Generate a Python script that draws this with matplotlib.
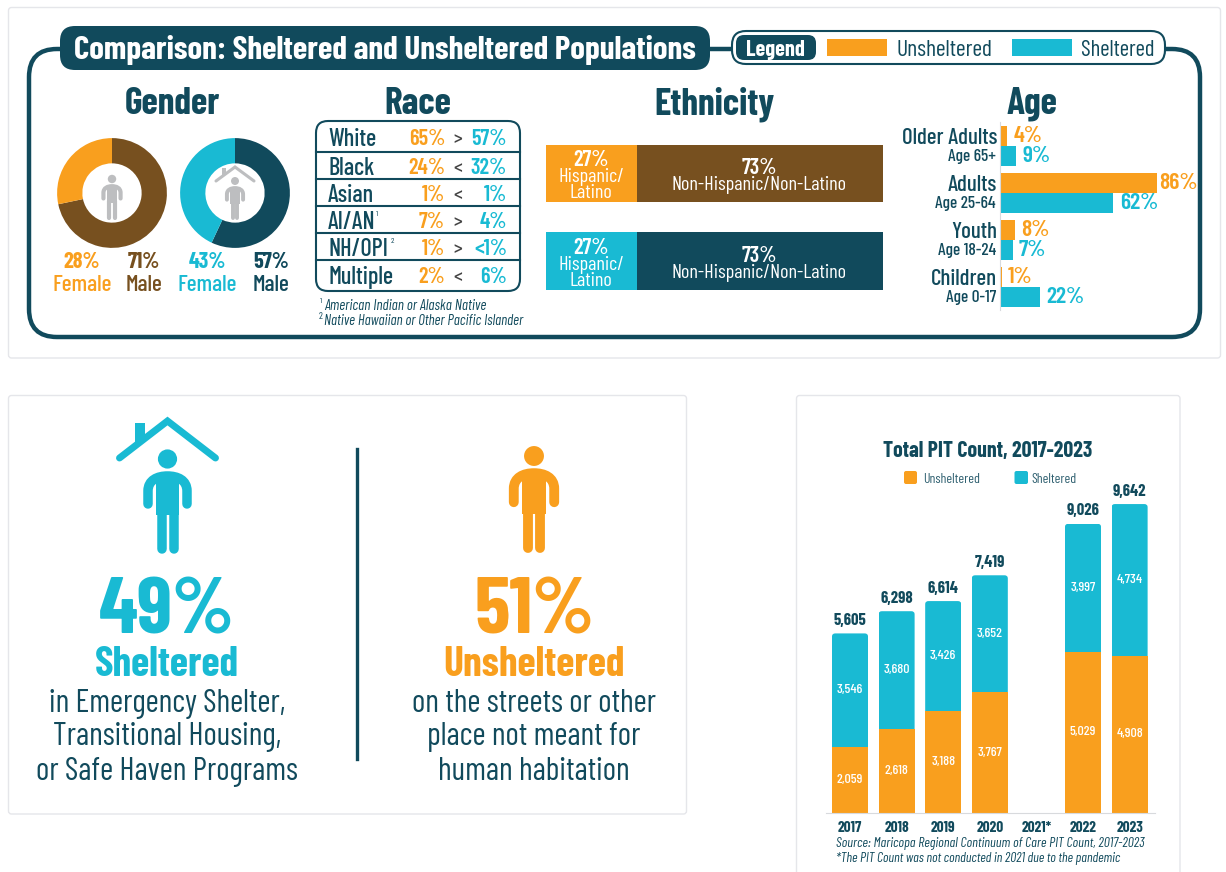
#!/usr/bin/env python3
"""
Sheltered and unsheltered populations, PIT count infographic
"""

import matplotlib
matplotlib.use("Agg")
import matplotlib.pyplot as plt
import numpy as np
from matplotlib.patches import Circle, FancyBboxPatch, PathPatch, Polygon, Rectangle
from matplotlib.path import Path

W, H = 1226, 872
ORANGE = "#F99F1E"
TEAL = "#19BAD3"
DARK = "#114A5C"
BROWN = "#77501F"
GRAY = "#BDBEC0"
BORDER = "#E5E6EA"

plt.rcParams["font.family"] = ["Barlow Condensed", "Roboto", "DejaVu Sans"]

# Gender
gender_unsheltered = [71, 28]
gender_sheltered = [57, 43]

# Race table
race_labels = ["White", "Black", "Asian", "AI/AN", "NH/OPI", "Multiple"]
race_unsheltered = ["65%", "24%", "1%", "7%", "1%", "2%"]
race_compare = [">", "<", "<", ">", ">", "<"]
race_sheltered = ["57%", "32%", "1%", "4%", "<1%", "6%"]

# Ethnicity
ethnicity_hispanic = [27, 27]
ethnicity_non_hispanic = [73, 73]

# Age
age_labels = ["Older Adults", "Adults", "Youth", "Children"]
age_ranges = ["Age 65+", "Age 25-64", "Age 18-24", "Age 0-17"]
age_unsheltered = [4, 86, 8, 1]
age_sheltered = [9, 62, 7, 22]

# PIT counts
pit_years = ["2017", "2018", "2019", "2020", "2021*", "2022", "2023"]
pit_unsheltered = [2059, 2618, 3188, 3767, np.nan, 5029, 4908]
pit_sheltered = [3546, 3680, 3426, 3652, np.nan, 3997, 4734]
pit_totals = [5605, 6298, 6614, 7419, np.nan, 9026, 9642]


def axes_px(x0, y0, x1, y1):
    """Axes placed with pixel coordinates, y counted from the top"""
    ax = FIG.add_axes([x0 / W, 1 - y1 / H, (x1 - x0) / W, (y1 - y0) / H])
    ax.patch.set_alpha(0)
    return ax


def overlay(zorder):
    ax = axes_px(0, 0, W, H)
    ax.set_xlim(0, W)
    ax.set_ylim(H, 0)
    ax.axis("off")
    ax.set_zorder(zorder)
    return ax


def box(ax, x0, y0, x1, y1, r, fc, ec="none", lw=0, zorder=1):
    ax.add_patch(FancyBboxPatch((x0, y0), x1 - x0, y1 - y0,
                                boxstyle=f"round,pad=0,rounding_size={r}",
                                fc=fc, ec=ec, lw=lw, zorder=zorder))


def txt(x, y, s, size, color=DARK, weight="normal", ha="center", style="normal"):
    FG.text(x, y, s, fontsize=size, color=color, fontweight=weight, ha=ha,
            va="center_baseline", fontstyle=style, zorder=5)


def person(ax, cx, head_y, top, bottom, color):
    """Standing figure, proportions scaled from the body height"""
    s = (bottom - top) / 82
    px = s * 0.72
    ax.add_patch(Circle((cx, head_y), 9.6 * s, fc=color, ec="none"))
    # shoulders and arms as one stroke
    verts = [(cx - 19.5 * s, top + 33 * s), (cx - 19.5 * s, top + 20 * s),
             (cx - 19.5 * s, top + 9 * s), (cx - 10 * s, top + 5 * s), (cx, top + 5 * s),
             (cx + 10 * s, top + 5 * s), (cx + 19.5 * s, top + 9 * s), (cx + 19.5 * s, top + 20 * s),
             (cx + 19.5 * s, top + 33 * s)]
    codes = [Path.MOVETO, Path.LINETO, Path.CURVE4, Path.CURVE4, Path.CURVE4,
             Path.CURVE4, Path.CURVE4, Path.CURVE4, Path.LINETO]
    ax.add_patch(PathPatch(Path(verts, codes), fc="none", ec=color, lw=9.5 * px,
                           capstyle="round", joinstyle="round"))
    ax.add_patch(Rectangle((cx - 11.5 * s, top + 4 * s), 23 * s, 40 * s, fc=color, ec="none"))
    for dx in (-6, 6):
        ax.plot([cx + dx * s] * 2, [top + 38 * s, top + 77.5 * s], color=color,
                lw=9.5 * px, solid_capstyle="round")


def roof(ax, cx, apex_y, half, drop, lw, chim, color):
    ax.plot([cx - half, cx, cx + half], [apex_y + drop, apex_y, apex_y + drop],
            color=color, lw=lw, solid_capstyle="round", solid_joinstyle="miter")
    ax.add_patch(Polygon(chim, fc=color, ec="none"))


FIG = plt.figure(figsize=(W / 100, H / 100), dpi=100, facecolor="white")
BG = overlay(0)
FG = overlay(10)

# Cards
box(BG, 8.5, 7.5, 1220.5, 358, 3, "white", BORDER, 1)
box(BG, 8.5, 395.5, 686.5, 814, 3, "white", BORDER, 1)
box(BG, 796.5, 395.5, 1180, 900, 3, "white", BORDER, 1)

# Comparison frame, title and legend
box(BG, 29, 49, 1200, 337, 28, "white", DARK, 3.2)
box(FG, 60, 26, 710, 70, 15, DARK)
txt(385, 47, "Comparison: Sheltered and Unsheltered Populations", 23.8, "white", "bold")
box(FG, 732, 31, 1165, 64, 14, "white", DARK, 1.5)
box(FG, 736, 35, 816, 60, 8, DARK)
txt(775, 47.5, "Legend", 16, "white", "bold")
FG.add_patch(Rectangle((827, 39), 60, 17, fc=ORANGE, ec="none"))
txt(896, 48, "Unsheltered", 17, ha="left")
FG.add_patch(Rectangle((1012, 39), 60, 17, fc=TEAL, ec="none"))
txt(1081, 48, "Sheltered", 16.5, ha="left")

# Section headings
for heading_x, heading in zip([172, 418, 714, 1032], ["Gender", "Race", "Ethnicity", "Age"]):
    txt(heading_x, 100, heading, 27, weight="bold")

# Gender donuts
for cx, vals, cols in [(112, gender_unsheltered, [BROWN, ORANGE]),
                       (235, gender_sheltered, [DARK, TEAL])]:
    ax = axes_px(cx - 56, 193 - 56, cx + 56, 193 + 56)
    ax.pie(vals, colors=cols, startangle=90, counterclock=False, radius=1,
           wedgeprops={"width": 0.46})
    ax.set_xlim(-1.02, 1.02)
    ax.set_ylim(-1.02, 1.02)

person(FG, 112, 179, 184, 220, GRAY)
person(FG, 235, 181, 186, 220, GRAY)
roof(FG, 235, 167, 19, 14, 2.2, [(222, 168), (226, 168), (226, 174), (222, 177)], GRAY)

for lx, lval, ltxt, col in [(82, gender_unsheltered[1], "Female", ORANGE),
                            (144, gender_unsheltered[0], "Male", BROWN),
                            (207, gender_sheltered[1], "Female", TEAL),
                            (271, gender_sheltered[0], "Male", DARK)]:
    txt(lx, 260, f"{lval}%", 16, col, "bold")
    txt(lx, 283, ltxt, 17, col, "medium")

# Race table
box(FG, 316, 121, 520, 291, 12, "white", DARK, 1.5, zorder=1)
for line_y in [152, 179, 206, 233, 260]:
    FG.plot([316, 520], [line_y, line_y], color=DARK, lw=1.5, zorder=2)
for row_y, name, left, cmp_sign, right in zip([137, 166, 193, 220, 247, 275], race_labels,
                                              race_unsheltered, race_compare, race_sheltered):
    txt(328, row_y, name, 17.5, weight="medium", ha="left")
    txt(445, row_y, left, 16, ORANGE, "semibold", ha="right")
    txt(458, row_y, cmp_sign, 14, "#444444", "medium")
    txt(507, row_y, right, 16, TEAL, "semibold", ha="right")
txt(376, 213, "1", 6, ha="left")
txt(391, 240, "2", 6, ha="left")
txt(324, 304, "American Indian or Alaska Native", 10.7, ha="left", style="italic")
txt(324, 319, "Native Hawaiian or Other Pacific Islander", 10.6, ha="left", style="italic")
txt(320, 300, "1", 6, ha="left")
txt(319, 315, "2", 7, ha="left")

# Ethnicity bars
ax = axes_px(546, 129.75, 883, 304.75)
eth_y = np.arange(2)
ax.barh(eth_y, ethnicity_hispanic, height=0.66, color=[ORANGE, TEAL])
ax.barh(eth_y, ethnicity_non_hispanic, left=ethnicity_hispanic, height=0.66, color=[BROWN, DARK])
ax.set_xlim(0, 100)
ax.set_ylim(1.5, -0.5)
ax.axis("off")
for base_y, i in [(144, 0), (232, 1)]:
    txt(591, base_y + 14, f"{ethnicity_hispanic[i]}%", 16, "white", "semibold")
    txt(591, base_y + 31, "Hispanic/", 14.5, "white")
    txt(591, base_y + 47, "Latino", 14.5, "white")
    txt(759, base_y + 22, f"{ethnicity_non_hispanic[i]}%", 16, "white", "semibold")
    txt(759, base_y + 39, "Non-Hispanic/Non-Latino", 14.5, "white")

# Age bars
ax = axes_px(1000, 122.5, 1183, 310.5)
age_y = np.arange(4)
bars_u = ax.barh(age_y - 0.2075, age_unsheltered, height=0.415, color=ORANGE)
bars_s = ax.barh(age_y + 0.2075, age_sheltered, height=0.415, color=TEAL)
ax.set_xlim(0, 100)
ax.set_ylim(3.5, -0.5)
for side in ("top", "right", "bottom"):
    ax.spines[side].set_visible(False)
ax.spines["left"].set_color("#D8DADD")
ax.set_xticks([])
ax.set_yticks([])
for bars, vals, col in [(bars_u, age_unsheltered, ORANGE), (bars_s, age_sheltered, TEAL)]:
    for bar, val in zip(bars, vals):
        ax.annotate(f"{val}%", (val, bar.get_y() + bar.get_height() / 2), xytext=(1.5 if val > 80 else 4.5, 0),
                    textcoords="offset points", color=col, fontsize=17, fontweight="semibold",
                    va="center", annotation_clip=False)
for center_y, name, ages in zip([136, 183, 230, 277], age_labels, age_ranges):
    txt(997, center_y, name, 16.5, weight="medium", ha="right")
    txt(996, center_y + 19, ages, 12.5, weight="medium", ha="right")

# Big share panel
person(FG, 167.5, 459, 471, 553, TEAL)
roof(FG, 167.5, 421, 48, 37, 5, [(135, 423), (145, 423), (145, 438), (135, 446)], TEAL)
person(FG, 534, 456, 468, 553, ORANGE)
FG.plot([356.7, 356.7], [449, 759], color=DARK, lw=2.4)

txt(167, 605, "49%", 58, TEAL, "bold")
txt(167, 661, "Sheltered", 30, TEAL, "bold")
for line_y, line in zip([700, 733, 768], ["in Emergency Shelter,", "Transitional Housing,", "or Safe Haven Programs"]):
    txt(167, line_y, line, 23)
txt(534, 605, "51%", 58, ORANGE, "bold")
txt(534, 661, "Unsheltered", 30, ORANGE, "bold")
for line_y, line in zip([700, 733, 768], ["on the streets or other", "place not meant for", "human habitation"]):
    txt(534, line_y, line, 23)

# PIT chart
ax = axes_px(826, 470, 1155, 813)
pit_x = np.arange(len(pit_years))
bars_u = ax.bar(pit_x, pit_unsheltered, width=0.773, color=ORANGE)
bars_s = ax.bar(pit_x, pit_sheltered, width=0.773, bottom=pit_unsheltered, color=TEAL)
ax.set_xlim(-0.515, 6.545)
ax.set_ylim(0, 10705)
for i, total in enumerate(pit_totals):
    if np.isnan(total):
        continue
    corner = FancyBboxPatch((i - 0.3865, 0), 0.773, total,
                            boxstyle="round,pad=0,rounding_size=0.07", mutation_aspect=1400,
                            transform=ax.transData)
    bars_s[i].set_clip_path(corner)
    ax.annotate(f"{total:,}", (i, total), xytext=(0, 6), textcoords="offset points", ha="center",
                color=DARK, fontsize=12, fontweight="bold")
ax.bar_label(bars_u, fmt="{:,.0f}", label_type="center", color="white", fontsize=10, fontweight="medium")
ax.bar_label(bars_s, fmt="{:,.0f}", label_type="center", color="white", fontsize=10, fontweight="medium")
for side in ("top", "right", "left"):
    ax.spines[side].set_visible(False)
ax.spines["bottom"].set_color("#D8DADD")
ax.set_yticks([])
ax.set_xticks(pit_x, pit_years, fontsize=11, fontweight="bold", color=DARK)
ax.tick_params(axis="x", length=0, pad=6)

txt(988, 449, "Total PIT Count, 2017-2023", 15.7, weight="bold")
box(FG, 904, 471, 917, 484, 2, ORANGE)
txt(923, 477.5, "Unsheltered", 10, "#2F6070", ha="left")
box(FG, 1014.5, 471, 1028, 484, 2, TEAL)
txt(1031, 477.5, "Sheltered", 10, "#2F6070", ha="left")
txt(836, 842, "Source: Maricopa Regional Continuum of Care PIT Count, 2017-2023", 10, ha="left", style="italic")
txt(836, 857, "*The PIT Count was not conducted in 2021 due to the pandemic", 9.9, ha="left", style="italic")

FIG.savefig("out.png", dpi=100)
